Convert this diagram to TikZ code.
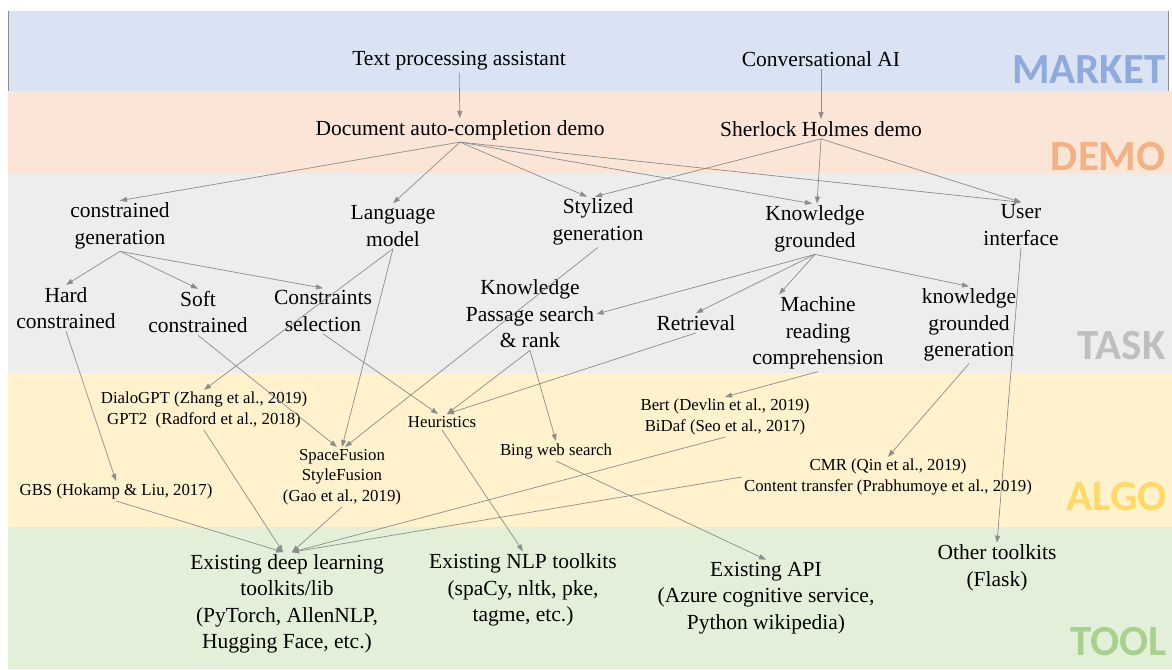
\documentclass[tikz,border=0pt]{standalone}
\usepackage{fontspec}
\setmainfont{Liberation Serif}
\newfontfamily\bandfont{Carlito}
\usetikzlibrary{arrows.meta}
\definecolor{mktfill}{HTML}{DAE3F3}
\definecolor{mkttext}{HTML}{8FAADC}
\definecolor{demofill}{HTML}{FBE5D6}
\definecolor{demotext}{HTML}{F4B183}
\definecolor{taskfill}{HTML}{EDEDED}
\definecolor{tasktext}{HTML}{BFBFBF}
\definecolor{algofill}{HTML}{FFF2CC}
\definecolor{algotext}{HTML}{FFD966}
\definecolor{toolfill}{HTML}{E2F0D9}
\definecolor{tooltext}{HTML}{A9D18E}
\definecolor{linkgray}{HTML}{8C8C8C}
\begin{document}
\begin{tikzpicture}[x=1pt,y=-1pt,every path/.append style={line width=0.7pt},
  big/.style={align=center,inner sep=2pt,font=\fontsize{21.5}{26.5}\selectfont},
  small/.style={align=center,inner sep=2pt,font=\fontsize{16.8}{20.3}\selectfont},
  tag/.style={anchor=east,inner sep=0pt,font=\bandfont\bfseries\fontsize{43}{43}\selectfont},
  link/.style={draw=linkgray,-{Triangle[length=7pt,width=5pt]}}]
\useasboundingbox (0,0) rectangle (1172,669);
\fill[mktfill] (8,11) rectangle (1168,91);
\draw[linkgray,line width=0.5pt] (8,11) -- (8,91) (1168,11) -- (1168,91);
\fill[demofill] (8,91) rectangle (1172,174);
\fill[taskfill] (8,174) rectangle (1172,373);
\fill[algofill] (8,373) rectangle (1172,527);
\fill[toolfill] (8,527) rectangle (1172,669);
\node(MARKET) [tag,text=mkttext] at (1166,70) {MARKET};
\node(DEMO) [tag,text=demotext] at (1166,157) {DEMO};
\node(TASK) [tag,text=tasktext] at (1166,346) {TASK};
\node(ALGO) [tag,text=algotext] at (1167,497) {ALGO};
\node(TOOL) [tag,text=tooltext] at (1167,642) {TOOL};

\node(tpa) [big] at (459,61) {Text processing assistant};
\node(cai) [big] at (821,59) {Conversational AI};
\node(dac) [big] at (460,130) {Document auto-completion demo};
\node(shd) [big] at (821,129) {Sherlock Holmes demo};

\node(cgen) [big] at (120,226) {constrained\\generation};
\node(lm) [big] at (393,226) {Language\\model};
\node(sty) [big] at (598,222) {Stylized\\generation};
\node(kg) [big] at (815,229) {Knowledge\\grounded};
\node(ui) [big] at (1021,225) {User\\interface};
\node(hard) [big] at (66,308) {Hard\\constrained};
\node(soft) [big] at (198,312) {Soft\\constrained};
\node(csel) [big] at (323,311) {Constraints\\selection};
\node(kps) [big] at (530,314) {Knowledge\\Passage search\\\& rank};
\node(retr) [big] at (696,323) {Retrieval};
\node(mrc) [big] at (818,333) {Machine\\reading\\comprehension};
\node(kgg) [big] at (969,325) {knowledge\\grounded\\generation};

\node(gpt) [small] at (204,410) {DialoGPT (Zhang et al., 2019)\\GPT2~~(Radford et al., 2018)};
\node(heur) [small] at (442,422) {Heuristics};
\node(bing) [small] at (556,451) {Bing web search};
\node(bert) [small] at (725,417) {Bert (Devlin et al., 2019)\\BiDaf (Seo et al., 2017)};
\node(sfus) [small] at (342,477) {SpaceFusion\\StyleFusion\\(Gao et al., 2019)};
\node(gbs) [small] at (116,491) {GBS (Hokamp \& Liu, 2017)};
\node(cmr) [small] at (888,477) {CMR (Qin et al., 2019)\\Content transfer (Prabhumoye et al., 2019)};

\node(dl) [big] at (287,604) {Existing deep learning\\toolkits/lib\\(PyTorch, AllenNLP,\\Hugging Face, etc.)};
\node(nlp) [big] at (523,590) {Existing NLP toolkits\\(spaCy, nltk, pke,\\tagme, etc.)};
\node(api) [big] at (766,598) {Existing API\\(Azure cognitive service,\\Python wikipedia)};
\node(oth) [big] at (997,568) {Other toolkits\\(Flask)};

\draw[link] (tpa) -- (dac);
\draw[link] (cai) -- (shd);
\draw[link] (dac.south) -- (cgen.north);
\draw[link] (dac.south) -- (lm.north);
\draw[link] (dac.south) -- ([xshift=-11pt]sty.north);
\draw[link] (dac.south) -- ([xshift=-3pt]kg.north);
\draw[link] (dac.south) -- (ui.north);
\draw[link] (shd.south) -- ([xshift=-3pt]sty.north);
\draw[link] (shd.south) -- ([xshift=2pt]kg.north);
\draw[link] (shd.south) -- (ui.north);
\draw[link] (cgen.south) -- (hard.north);
\draw[link] (cgen.south) -- (soft.north);
\draw[link] (cgen.south) -- (csel.north);
\draw[link] (lm.south) -- (gpt.north);
\draw[link] (lm.south) -- (sfus.north);
\draw[link] (sty.south) -- ([xshift=3pt]sfus.north);
\draw[link] (soft.south) -- ([xshift=-5pt]sfus.north);
\draw[link] (csel.south) -- ([xshift=-4pt]heur.north);
\draw[link] (kps.south) -- ([xshift=5pt]heur.north);
\draw[link] (retr.south) -- ([xshift=5pt]heur.north);
\draw[link] (kps.south) -- (bing.north);
\draw[link] (hard.south) -- (gbs.north);
\draw[link] (kg.south) -- (kps.east);
\draw[link] (kg.south) -- (retr.north);
\draw[link] (kg.south) -- ([xshift=-39pt]mrc.north);
\draw[link] (kg.south) -- (kgg.north);
\draw[link] (mrc.south) -- (bert.north);
\draw[link] (kgg.south) -- (cmr.north);
\draw[link] (ui.south) -- (oth.north);
\draw[link] (gbs.south) -- ([xshift=-4pt]dl.north);
\draw[link] (gpt.south) -- ([xshift=-4pt]dl.north);
\draw[link] (sfus.south) -- ([xshift=5pt]dl.north);
\draw[link] (bert.south) -- ([xshift=5pt]dl.north);
\draw[link] (cmr.west) -- ([xshift=5pt]dl.north);
\draw[link] (heur.south) -- (nlp.north);
\draw[link] (bing.south) -- (api.north);
\end{tikzpicture}
\end{document}
